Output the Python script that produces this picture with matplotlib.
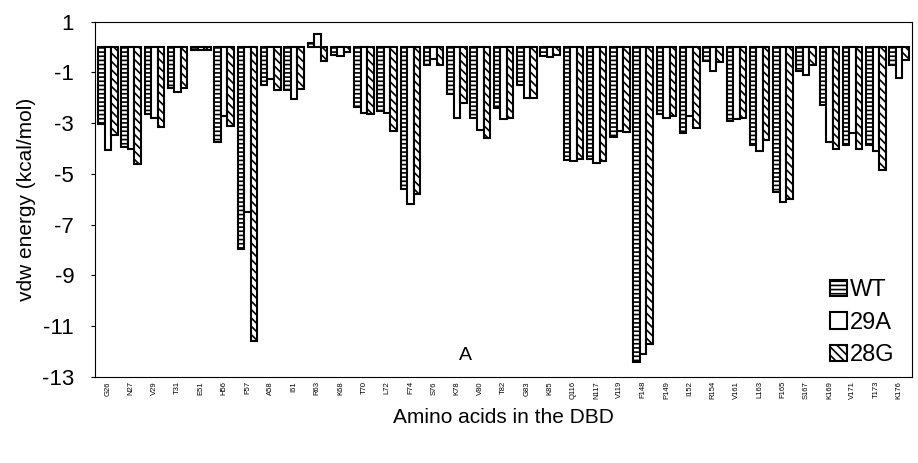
import matplotlib.pyplot as plt
import numpy as np

plt.rcParams['font.family'] = ['Liberation Sans', 'DejaVu Sans']
plt.rcParams['hatch.linewidth'] = 1.2

residues = ['G26', 'N27', 'V29', 'T31', 'E51', 'H56', 'F57', 'A58', 'I61', 'R63',
            'K68', 'T70', 'L72', 'F74', 'S76', 'K78', 'V80', 'T82', 'G83', 'K85',
            'Q116', 'N117', 'V119', 'F148', 'P149', 'I152', 'R154', 'V161', 'L163', 'F165',
            'S167', 'K169', 'V171', 'T173', 'K176']

wt = [-3.05, -3.95, -2.65, -1.6, -0.1, -3.75, -7.95, -1.5, -1.7, 0.15,
      -0.3, -2.35, -2.5, -5.6, -0.7, -1.85, -2.8, -2.4, -1.5, -0.35,
      -4.45, -4.4, -3.55, -12.4, -2.65, -3.4, -0.55, -2.9, -3.85, -5.7,
      -0.95, -2.3, -3.85, -3.85, -0.7]
m29a = [-4.05, -4.0, -2.8, -1.75, -0.1, -2.7, -6.5, -1.25, -2.05, 0.5,
        -0.35, -2.6, -2.6, -6.2, -0.45, -2.8, -3.25, -2.85, -2.0, -0.4,
        -4.5, -4.55, -3.3, -12.1, -2.8, -2.7, -0.95, -2.85, -4.1, -6.1,
        -1.1, -3.75, -3.4, -4.1, -1.2]
m28g = [-3.45, -4.6, -3.15, -1.6, -0.1, -3.1, -11.6, -1.7, -1.65, -0.55,
        -0.2, -2.65, -3.3, -5.8, -0.7, -2.2, -3.6, -2.8, -2.0, -0.3,
        -4.4, -4.5, -3.35, -11.7, -2.7, -3.2, -0.6, -2.8, -3.65, -6.0,
        -0.7, -4.0, -4.0, -4.85, -0.5]

x = np.arange(len(residues))
w = 0.28

fig = plt.figure(figsize=(9.18, 4.63), dpi=100)
ax = fig.add_axes([0.1035, 0.186, 0.89, 0.767])

ax.bar(x - w, wt, w, facecolor='white', edgecolor='black', hatch='----', linewidth=1.5, label='WT')
ax.bar(x, m29a, w, facecolor='white', edgecolor='black', linewidth=1.5, label='29A')
ax.bar(x + w, m28g, w, facecolor='white', edgecolor='black', hatch='\\\\\\\\', linewidth=1.5, label='28G')

ax.set_xlim(-0.55, len(residues) - 0.45)
ax.set_ylim(-13, 1)
ax.set_yticks(np.arange(1, -14, -2))
ax.set_yticklabels([str(v) for v in range(1, -14, -2)], fontsize=16)
ax.set_xticks(x)
ax.set_xticklabels(residues, rotation=90, fontsize=5.5)
ax.tick_params(axis='x', length=0, pad=3)
ax.tick_params(axis='y', direction='out', length=3, pad=12)

ax.set_ylabel('vdw energy (kcal/mol)', fontsize=15, labelpad=4)
ax.set_xlabel('Amino acids in the DBD', fontsize=15, labelpad=6)
ax.text(15.35, -12.15, 'A', fontsize=14, ha='center', va='center')

leg = ax.legend(loc='lower right', bbox_to_anchor=(1.005, -0.03), fontsize=17, frameon=False,
                handlelength=0.7, handleheight=0.7, handletextpad=0.15, labelspacing=0.45)

fig.savefig('out.png', dpi=100)
